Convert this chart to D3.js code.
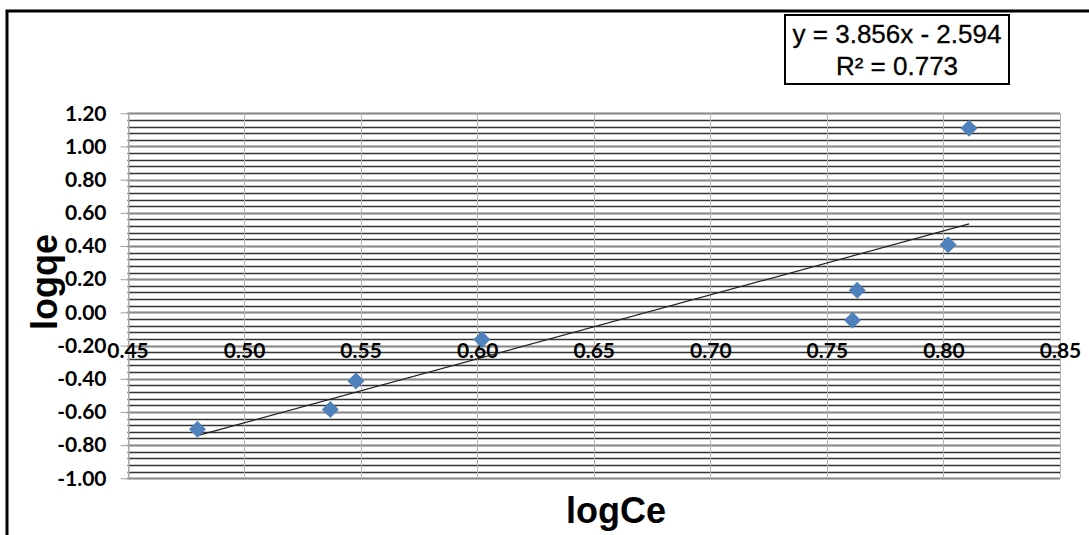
<!DOCTYPE html>
<html>
<head>
<meta charset="utf-8">
<script src="https://d3js.org/d3.v7.min.js"></script>
<style>
  body { margin: 0; background: #fff; }
  svg { display: block; }
  .tick text { font-family: Lato, "Open Sans", sans-serif; font-weight: 700; font-size: 21px; fill: #000; }
  .title { font-family: "Liberation Sans", Arial, sans-serif; font-weight: 700; font-size: 36px; fill: #000; }
  .eq { font-family: "Liberation Sans", Arial, sans-serif; font-size: 26px; fill: #000; stroke: #000; stroke-width: 0.3px; }
</style>
</head>
<body>
<script>
// data
var logCe = [0.480, 0.537, 0.548, 0.602, 0.761, 0.763, 0.802, 0.811];
var logqe = [-0.705, -0.585, -0.414, -0.164, -0.048, 0.133, 0.408, 1.110];
var xTicks = [0.45, 0.50, 0.55, 0.60, 0.65, 0.70, 0.75, 0.80, 0.85];
var yTicks = [-1.00, -0.80, -0.60, -0.40, -0.20, 0.00, 0.20, 0.40, 0.60, 0.80, 1.00, 1.20];
var yMinorStep = 0.04;
var slope = 3.856, intercept = -2.594;
var eqLines = ["y = 3.856x - 2.594", "R\u00b2 = 0.773"];

var W = 1089, H = 535;
var svg = d3.select("body").append("svg")
    .attr("width", W)
    .attr("height", H);

var x = d3.scaleLinear().domain([0.45, 0.85]).range([127.5, 1060]);
var y = d3.scaleLinear().domain([-1.0, 1.2]).range([478.3, 113.3]);

// outer frame (cut by the window on the right and bottom)
svg.append("rect")
    .attr("x", 7).attr("y", 11)
    .attr("width", W + 20).attr("height", H + 20)
    .attr("fill", "none")
    .attr("stroke", "#000")
    .attr("stroke-width", 3);

// minor horizontal grid
var minor = d3.range(0, Math.round(2.2 / yMinorStep) + 1).map(function(i) { return -1 + i * yMinorStep; });
svg.append("g").selectAll("line")
    .data(minor)
    .enter().append("line")
    .attr("x1", x(0.45)).attr("x2", x(0.85))
    .attr("y1", function(d) { return Math.round(y(d)) + 0.5; })
    .attr("y2", function(d) { return Math.round(y(d)) + 0.5; })
    .attr("stroke", "#333")
    .attr("stroke-width", 1.3);

// major horizontal grid
svg.append("g").selectAll("line")
    .data(yTicks)
    .enter().append("line")
    .attr("x1", x(0.45)).attr("x2", x(0.85))
    .attr("y1", function(d) { return Math.round(y(d)) + 0.5; })
    .attr("y2", function(d) { return Math.round(y(d)) + 0.5; })
    .attr("stroke", "#8a8a8a")
    .attr("stroke-width", 1.3);

// vertical grid
svg.append("g").selectAll("line")
    .data(xTicks)
    .enter().append("line")
    .attr("x1", function(d) { return Math.round(x(d)) + 0.5; })
    .attr("x2", function(d) { return Math.round(x(d)) + 0.5; })
    .attr("y1", y(1.2)).attr("y2", y(-1.0))
    .attr("stroke", "#b4b4b4")
    .attr("stroke-width", 1);

// y axis
var yAxis = svg.append("g")
    .attr("transform", "translate(" + (Math.round(x(0.45)) + 0.5) + ",0)")
    .call(d3.axisLeft(y)
        .tickValues(yTicks)
        .tickFormat(function(d) { return d.toFixed(2); })
        .tickSizeInner(8).tickSizeOuter(0).tickPadding(14));
yAxis.select(".domain").attr("stroke", "#a0a0a0");
yAxis.selectAll(".tick line").attr("stroke", "#a0a0a0");

// x axis labels (sit just under the -0.20 line, no axis line)
var xAxis = svg.append("g")
    .attr("transform", "translate(0," + (y(-0.2) - 5.5) + ")")
    .call(d3.axisBottom(x)
        .tickValues(xTicks)
        .tickFormat(function(d) { return d.toFixed(2); })
        .tickSize(0).tickPadding(3));
xAxis.select(".domain").remove();

// trend line
var xs = d3.extent(logCe);
svg.append("line")
    .attr("x1", x(xs[0])).attr("y1", y(slope * xs[0] + intercept))
    .attr("x2", x(xs[1])).attr("y2", y(slope * xs[1] + intercept))
    .attr("stroke", "#222")
    .attr("stroke-width", 1.2);

// points
svg.append("g").selectAll("path")
    .data(logCe)
    .enter().append("path")
    .attr("d", d3.symbol().type(d3.symbolSquare).size(145))
    .attr("transform", function(d, i) {
        return "translate(" + x(d) + "," + y(logqe[i]) + ") rotate(45)";
    })
    .attr("fill", "#4f81bd");

// axis titles
svg.append("text")
    .attr("class", "title")
    .attr("x", 616).attr("y", 523)
    .attr("text-anchor", "middle")
    .text("logCe");

svg.append("text")
    .attr("class", "title")
    .attr("transform", "translate(57,282) rotate(-90)")
    .attr("text-anchor", "middle")
    .text("logqe");

// equation box
svg.append("rect")
    .attr("x", 785).attr("y", 15)
    .attr("width", 224).attr("height", 69)
    .attr("fill", "#fff")
    .attr("stroke", "#000")
    .attr("stroke-width", 2);

svg.append("g").selectAll("text")
    .data(eqLines)
    .enter().append("text")
    .attr("class", "eq")
    .attr("x", 897)
    .attr("y", function(d, i) { return 43 + i * 32; })
    .attr("text-anchor", "middle")
    .text(function(d) { return d; });
</script>
</body>
</html>
